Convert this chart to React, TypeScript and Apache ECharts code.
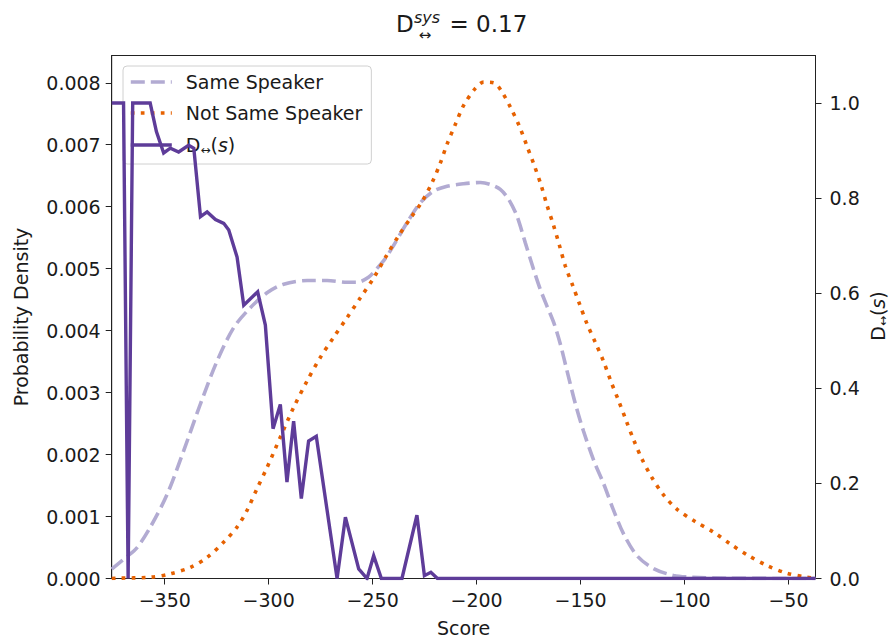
import React, { useEffect, useRef } from 'react';
import * as echarts from 'echarts';

const xTicks = [-350, -300, -250, -200, -150, -100, -50];
const leftTicks = [0, 0.001, 0.002, 0.003, 0.004, 0.005, 0.006, 0.007, 0.008];
const rightTicks = [0, 0.2, 0.4, 0.6, 0.8, 1.0];

const sameSpeaker: [number, number][] = [
  [-375.5, 0.00015], [-369, 0.00033], [-363.3, 0.0005], [-356.9, 0.00083],
  [-348.8, 0.00136], [-340.9, 0.00206], [-332.8, 0.00282], [-324.8, 0.00351],
  [-316.8, 0.00405], [-308.8, 0.00437], [-300.8, 0.00461], [-292.8, 0.00475],
  [-281.5, 0.00481], [-271.9, 0.00481], [-262.3, 0.00478], [-257.5, 0.00478],
  [-252, 0.00486], [-248, 0.005], [-244, 0.00516], [-240, 0.00537],
  [-233.5, 0.00574], [-227.1, 0.00606], [-220.7, 0.00625], [-214.2, 0.00633],
  [-206.3, 0.00637], [-198.2, 0.00639], [-193.4, 0.00636], [-188.6, 0.00628],
  [-184.6, 0.00612], [-180.6, 0.00585], [-176.6, 0.00542], [-172.6, 0.00499],
  [-169.4, 0.00467], [-166.2, 0.0044], [-162.8, 0.00412], [-159.7, 0.00378],
  [-156.5, 0.00335], [-152.5, 0.00282], [-148.6, 0.00238], [-143.6, 0.0019],
  [-138.9, 0.00153], [-134.1, 0.0011], [-129.3, 0.00072], [-122.9, 0.00037],
  [-114.9, 0.00016], [-105.3, 0.00005], [-95.9, 0.00002], [-80, 0.000005],
  [-37, 0],
];

const notSameSpeaker: [number, number][] = [
  [-375.5, 0], [-372.9, 0.000005], [-356.9, 0.00002], [-347.3, 0.000076],
  [-337.6, 0.00018], [-329.6, 0.00034], [-321.6, 0.00059], [-315.2, 0.00083],
  [-310.4, 0.0011], [-305.6, 0.00145], [-300.8, 0.00179], [-294.4, 0.00228],
  [-288, 0.00276], [-281.5, 0.00319], [-275.1, 0.00357], [-268.8, 0.00389],
  [-262.3, 0.00421], [-255.9, 0.00453], [-249.5, 0.00485], [-243.5, 0.0052],
  [-237.5, 0.00553], [-231.9, 0.00581], [-226.3, 0.00608], [-221.4, 0.00639],
  [-217.5, 0.0067], [-214.2, 0.00701], [-210.2, 0.00733], [-206.3, 0.00763],
  [-200.6, 0.00791], [-196.6, 0.00801], [-191.8, 0.008], [-188.3, 0.00788],
  [-183.5, 0.00759], [-179.3, 0.00729], [-175.8, 0.00698], [-172.3, 0.00667],
  [-168.9, 0.00634], [-166.2, 0.00603], [-163, 0.0057], [-160.2, 0.00538],
  [-157.4, 0.00505], [-153.8, 0.00473], [-150.5, 0.00443], [-146.9, 0.00411],
  [-142.9, 0.00381], [-138.9, 0.0035], [-135.4, 0.00318], [-131.7, 0.00287],
  [-128.2, 0.00256], [-124.5, 0.00224], [-120.5, 0.00193], [-115.7, 0.00163],
  [-110.1, 0.00135], [-103.7, 0.00112], [-94.9, 0.00092], [-86.1, 0.00075],
  [-78.1, 0.00056], [-69.3, 0.00037], [-60.4, 0.00021], [-50.8, 0.000085],
  [-41.2, 0.00002], [-37, 0],
];

const dCurve: [number, number][] = [
  [-375.5, 1.0], [-369.8, 1.0], [-367.6, 0], [-365.4, 1.0], [-357, 1.0],
  [-354, 0.94], [-350.5, 0.895], [-347.3, 0.905], [-343.3, 0.897], [-338.5, 0.911],
  [-336, 0.905], [-332.8, 0.761], [-329.6, 0.771], [-325.6, 0.755], [-321.6, 0.747],
  [-319.2, 0.733], [-315.2, 0.676], [-312, 0.575], [-305.3, 0.603], [-301.6, 0.533],
  [-297.9, 0.315], [-294.4, 0.366], [-291.2, 0.203], [-288, 0.331], [-284.3, 0.168],
  [-280.8, 0.289], [-277.1, 0.299], [-267.1, 0], [-263.1, 0.129], [-256.7, 0.02],
  [-252.7, 0], [-249.5, 0.048], [-245.8, 0], [-235.9, 0], [-228.7, 0.133],
  [-225.1, 0.006], [-222, 0.013], [-218.8, 0], [-37, 0],
];

const FONT = 'DejaVu Sans';
const TXT = '#1a1a1a';
const DNAME = 'D(s)';

export default function App() {
  const ref = useRef<HTMLDivElement>(null);
  useEffect(() => {
    if (!ref.current) return;
    const chart = echarts.init(ref.current, undefined, { renderer: 'svg' });
    const richD = {
      a: { fontSize: 19, fontFamily: FONT, color: TXT, lineHeight: 22, verticalAlign: 'middle' },
      b: { fontSize: 12, fontFamily: FONT, color: TXT, lineHeight: 12, verticalAlign: 'bottom' },
      c: { fontSize: 19, fontFamily: FONT, color: TXT, fontStyle: 'italic', lineHeight: 22, verticalAlign: 'middle' },
    };
    const dText = '{a|D}{b|↔}{a|(}{c|s}{a|)}';
    chart.setOption({
      animation: false,
      textStyle: { fontFamily: FONT },
      grid: { left: 111.7, top: 55.5, width: 703.8, height: 523, show: true, borderColor: '#222', borderWidth: 1, backgroundColor: 'transparent', containLabel: false, outerBoundsMode: 'none' },
      legend: {
        orient: 'vertical', left: 123, top: 66,
        data: ['Same Speaker', 'Not Same Speaker', DNAME],
        itemWidth: 41, itemHeight: 14, itemGap: 11,
        padding: [6, 9, 8, 6],
        borderColor: '#d0d0d0', borderWidth: 1, borderRadius: 4,
        backgroundColor: 'rgba(255,255,255,0.8)',
        z: 3,
        itemStyle: { opacity: 0, borderWidth: 0 },
        lineStyle: { width: 3.6, type: 'inherit', cap: 'butt' },
        textStyle: { fontSize: 19, fontFamily: FONT, color: TXT, lineHeight: 20, padding: [0, 0, 0, 9], rich: richD },
        formatter: (n: string) => (n === DNAME ? dText : n),
        selectedMode: false,
      },
      xAxis: {
        type: 'value', min: -375.5, max: -37,
        axisLine: { show: true, onZero: false, lineStyle: { color: '#222', width: 1 } },
        axisTick: { show: true, length: 6, customValues: xTicks, lineStyle: { color: '#222' } },
        axisLabel: { customValues: xTicks, fontSize: 19, color: TXT, margin: 12, formatter: (v: number) => (v < 0 ? '\u2212' + Math.abs(v) : String(v)) },
        splitLine: { show: false },
      },
      yAxis: [
        {
          type: 'value', position: 'left', min: 0, max: 0.00844,
          axisLine: { show: true, lineStyle: { color: '#222', width: 1 } },
          axisTick: { show: true, length: 6, customValues: leftTicks, lineStyle: { color: '#222' } },
          axisLabel: { customValues: leftTicks, fontSize: 19, color: TXT, margin: 11, formatter: (v: number) => v.toFixed(3) },
          splitLine: { show: false },
        },
        {
          type: 'value', position: 'right', min: 0, max: 1.1,
          axisLine: { show: true, lineStyle: { color: '#222', width: 1 } },
          axisTick: { show: true, length: 6, customValues: rightTicks, lineStyle: { color: '#222' } },
          axisLabel: { customValues: rightTicks, fontSize: 19, color: TXT, margin: 14, formatter: (v: number) => v.toFixed(1) },
          splitLine: { show: false },
        },
      ],
      series: [
        {
          name: 'Same Speaker', type: 'line', yAxisIndex: 0, data: sameSpeaker,
          symbol: 'none', showSymbol: false, smooth: 0.3, z: 2,
          lineStyle: { color: '#b2abd2', width: 3.6, type: [14, 6], cap: 'butt' },
          itemStyle: { color: '#b2abd2' },
        },
        {
          name: 'Not Same Speaker', type: 'line', yAxisIndex: 0, data: notSameSpeaker,
          symbol: 'none', showSymbol: false, smooth: 0.3, z: 2,
          lineStyle: { color: '#e66101', width: 3.6, type: [3.7, 6.3], cap: 'butt' },
          itemStyle: { color: '#e66101' },
        },
        {
          name: DNAME, type: 'line', yAxisIndex: 1, data: dCurve,
          symbol: 'none', showSymbol: false, smooth: false, z: 5,
          lineStyle: { color: '#5e3c99', width: 3.4, join: 'miter' },
          itemStyle: { color: '#5e3c99' },
        },
      ],
      graphic: [
        { type: 'text', x: 396, y: 23.5, style: { text: 'D', fontSize: 23, fontFamily: FONT, fill: TXT, align: 'left', verticalAlign: 'middle' } },
        { type: 'text', x: 414, y: 17, style: { text: 'sys', fontSize: 16, fontStyle: 'italic', fontFamily: FONT, fill: TXT, align: 'left', verticalAlign: 'middle' } },
        { type: 'text', x: 425, y: 34.5, style: { text: '↔', fontSize: 15, fontFamily: FONT, fill: TXT, align: 'center', verticalAlign: 'middle' } },
        { type: 'text', x: 449.5, y: 23.5, style: { text: '= 0.17', fontSize: 23, fontFamily: FONT, fill: TXT, align: 'left', verticalAlign: 'middle' } },
        { type: 'text', x: 463.5, y: 628, style: { text: 'Score', fontSize: 19, fontFamily: FONT, fill: TXT, align: 'center', verticalAlign: 'middle' } },
        { type: 'text', x: 21, y: 317, rotation: Math.PI / 2, style: { text: 'Probability Density', fontSize: 19, fontFamily: FONT, fill: TXT, align: 'center', verticalAlign: 'middle' } },
        { type: 'text', x: 878, y: 316, rotation: Math.PI / 2, style: { text: dText, rich: richD, fontSize: 19, fontFamily: FONT, fill: TXT, align: 'center', verticalAlign: 'middle' } },
      ],
    });
    return () => chart.dispose();
  }, []);
  return <div ref={ref} style={{ width: 889, height: 638, position: 'absolute', left: 0, top: 0 }} />;
}
